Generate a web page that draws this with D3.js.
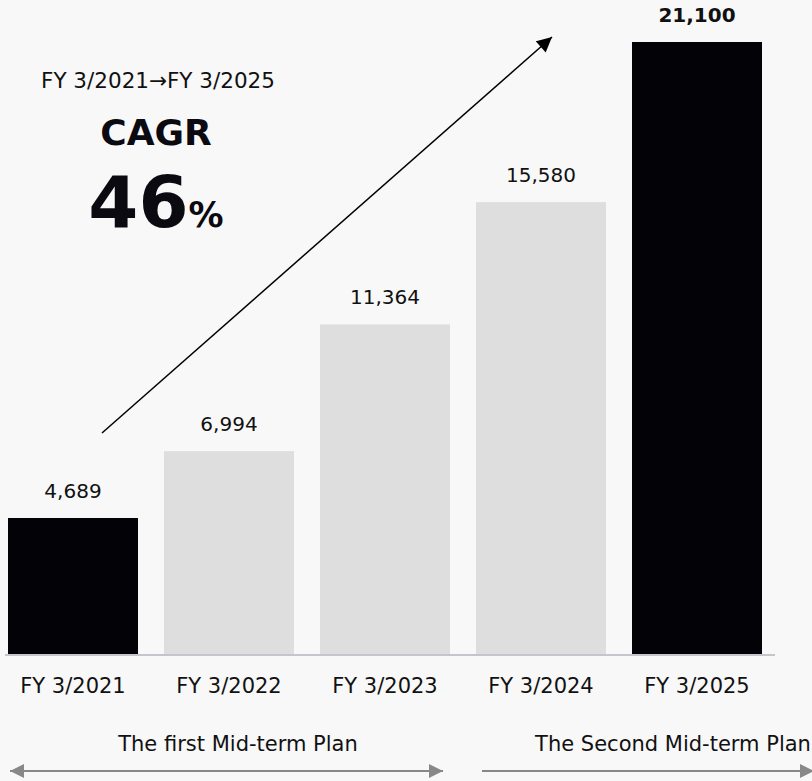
<!DOCTYPE html>
<html>
<head>
<meta charset="utf-8">
<script src="https://cdn.jsdelivr.net/npm/d3@7"></script>
<style>
  html, body { margin: 0; padding: 0; background: #f8f8f8; }
  svg { display: block; font-family: "DejaVu Sans", Verdana, sans-serif; }
</style>
</head>
<body>
<svg id="chart" width="812" height="781"></svg>
<script>
// Revenue by fiscal year
const years = ["FY 3/2021", "FY 3/2022", "FY 3/2023", "FY 3/2024", "FY 3/2025"];
const values = [4689, 6994, 11364, 15580, 21100];
const highlighted = [true, false, false, false, true];
const plans = [
  { name: "The first Mid-term Plan", from: 0, to: 2 },
  { name: "The Second Mid-term Plan", from: 3, to: 4 }
];

const svg = d3.select("#chart");
const baseY = 654;

const x = d3.scaleBand().domain(years).range([8, 762]).paddingInner(26 / 156).paddingOuter(0);
const y = d3.scaleLinear().domain([0, 21100]).range([baseY, 42]);

// bars
svg.selectAll("rect.bar").data(values).join("rect")
  .attr("class", "bar")
  .attr("x", (d, i) => x(years[i]))
  .attr("y", d => y(d))
  .attr("width", x.bandwidth())
  .attr("height", d => baseY - y(d))
  .attr("fill", (d, i) => highlighted[i] ? "#030207" : "#dedede");

// value labels
svg.selectAll("text.val").data(values).join("text")
  .attr("class", "val")
  .attr("x", (d, i) => x(years[i]) + x.bandwidth() / 2)
  .attr("y", d => y(d) - 20)
  .attr("text-anchor", "middle")
  .attr("font-size", 20)
  .attr("font-weight", (d, i) => i === values.length - 1 ? "bold" : "normal")
  .attr("fill", "#111")
  .text(d => d3.format(",")(d));

// baseline axis
const axis = svg.append("g").attr("transform", `translate(0,${baseY})`)
  .call(d3.axisBottom(x).tickSize(0));
axis.select(".domain").attr("d", "M5,1H775").attr("stroke", "#c3c6cc").attr("stroke-width", 2);
axis.selectAll(".tick text")
  .attr("y", 39).attr("dy", 0)
  .attr("font-size", 21)
  .attr("font-family", "DejaVu Sans, Verdana, sans-serif")
  .attr("fill", "#111");

// plan period labels and arrows
const defs = svg.append("defs");
function head(id, color, orient, w, h) {
  defs.append("marker").attr("id", id)
    .attr("viewBox", "0 0 10 10").attr("refX", 10).attr("refY", 5)
    .attr("markerWidth", w).attr("markerHeight", h)
    .attr("markerUnits", "userSpaceOnUse")
    .attr("orient", orient)
    .append("path").attr("d", "M0,0L10,5L0,10Z").attr("fill", color);
}
head("grayEnd", "#888888", "auto", 15, 14);
head("grayStart", "#888888", "auto-start-reverse", 15, 14);
head("blackEnd", "#000", "auto", 17, 15);

const planCenters = [238, 673];
svg.selectAll("text.plan").data(plans).join("text")
  .attr("class", "plan")
  .attr("x", (d, i) => planCenters[i]).attr("y", 751)
  .attr("text-anchor", "middle")
  .attr("font-size", 21).attr("fill", "#111")
  .text(d => d.name);

svg.append("line").attr("x1", 10).attr("x2", 443).attr("y1", 771).attr("y2", 771)
  .attr("stroke", "#888888").attr("stroke-width", 2)
  .attr("marker-start", "url(#grayStart)").attr("marker-end", "url(#grayEnd)");
svg.append("line").attr("x1", 482).attr("x2", 814).attr("y1", 771).attr("y2", 771)
  .attr("stroke", "#888888").attr("stroke-width", 2)
  .attr("marker-end", "url(#grayEnd)");

// growth arrow
svg.append("line").attr("x1", 102).attr("y1", 433).attr("x2", 552).attr("y2", 37)
  .attr("stroke", "#000").attr("stroke-width", 1.5)
  .attr("marker-end", "url(#blackEnd)");

// CAGR annotation
svg.append("text").attr("x", 158).attr("y", 88).attr("text-anchor", "middle")
  .attr("font-size", 21.5).attr("fill", "#111").text("FY 3/2021→FY 3/2025");
svg.append("text").attr("x", 156).attr("y", 145).attr("text-anchor", "middle")
  .attr("font-size", 36).attr("font-weight", "bold").attr("fill", "#0a0a10").text("CAGR");
const big = svg.append("text").attr("x", 156).attr("y", 227).attr("text-anchor", "middle")
  .attr("font-weight", "bold").attr("fill", "#0a0a10");
big.append("tspan").attr("font-size", 72).text("46");
big.append("tspan").attr("font-size", 35).text("%");
</script>
</body>
</html>
